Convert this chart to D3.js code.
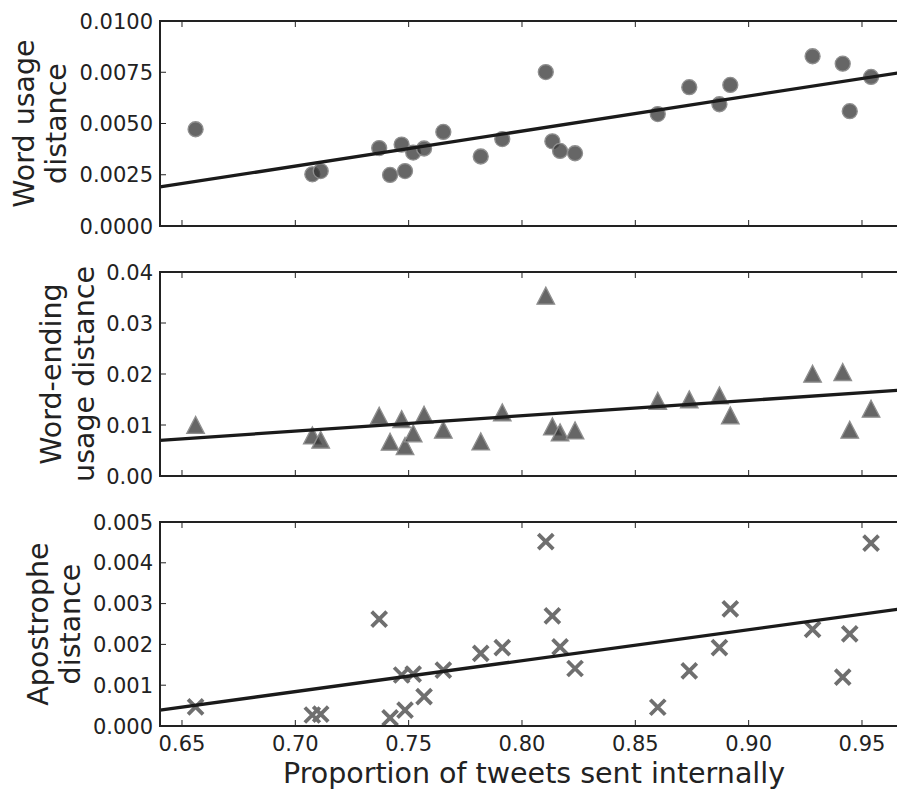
<!DOCTYPE html>
<html>
<head>
<meta charset="utf-8">
<script src="https://cdn.jsdelivr.net/npm/d3@7"></script>
<style>
  body { margin: 0; background: #fff; }
  text { font-family: "DejaVu Sans", sans-serif; fill: #222; }
</style>
</head>
<body>
<div id="chart"></div>
<script>
// proportion of tweets sent internally (shared by all three panels)
var proportion = [0.656, 0.7075, 0.7112, 0.737, 0.7418, 0.7469, 0.7484, 0.752, 0.7568, 0.7653,
  0.7818, 0.7913, 0.8105, 0.8134, 0.8168, 0.8234, 0.8599, 0.8738, 0.8871, 0.8919,
  0.9282, 0.9415, 0.9446, 0.954];

var wordDist = [0.00472, 0.00252, 0.00268, 0.0038, 0.00249, 0.00397, 0.00268, 0.00358, 0.00378, 0.00459,
  0.00339, 0.00424, 0.00751, 0.00413, 0.00366, 0.00355, 0.00546, 0.00677, 0.00594, 0.00688,
  0.00828, 0.00792, 0.0056, 0.00727];

var endingDist = [0.00996, 0.0079, 0.00706, 0.01176, 0.00667, 0.0111, 0.00582, 0.0083, 0.01196, 0.00902,
  0.00673, 0.01241, 0.0353, 0.00967, 0.00849, 0.00888, 0.0147, 0.01496, 0.01575, 0.01183,
  0.0200, 0.02033, 0.00902, 0.01314];

var apostropheDist = [0.00047, 0.00027, 0.00029, 0.00262, 0.0002, 0.00125, 0.00039, 0.00127, 0.00072, 0.00137,
  0.00178, 0.00192, 0.00452, 0.0027, 0.00194, 0.00141, 0.00046, 0.00135, 0.00192, 0.00287,
  0.00237, 0.0012, 0.00226, 0.00448];

// fitted lines [slope, intercept]
var wordFit = [0.01709, -0.00904];
var endingFit = [0.03013, -0.01229];
var apostropheFit = [0.00759, -0.00447];

var xTicks = [0.65, 0.70, 0.75, 0.80, 0.85, 0.90, 0.95];
var wordTicks = [0, 0.0025, 0.005, 0.0075, 0.01];
var endingTicks = [0, 0.01, 0.02, 0.03, 0.04];
var apostropheTicks = [0, 0.001, 0.002, 0.003, 0.004, 0.005];

var W = 897, H = 791;
var svg = d3.select("#chart").append("svg")
  .attr("width", W).attr("height", H);

// x scale: 0.65 at 182px, 0.95 at 862px
var x = d3.scaleLinear().domain([0.6403, 0.9703]).range([160, 908]);

var panels = [
  {top: 21, bottom: 226, ys: wordDist, fit: wordFit, ticks: wordTicks, fmt: ".4f", marker: "circle",
   label: ["Word usage", "distance"], base: [34, 66]},
  {top: 272, bottom: 476, ys: endingDist, fit: endingFit, ticks: endingTicks, fmt: ".2f", marker: "triangle",
   label: ["Word-ending", "usage distance"], base: [61, 93.5]},
  {top: 522, bottom: 726, ys: apostropheDist, fit: apostropheFit, ticks: apostropheTicks, fmt: ".3f", marker: "cross",
   label: ["Apostrophe", "distance"], base: [47.5, 80]}
];

panels.forEach(function(p, pi) {
  var y = d3.scaleLinear()
    .domain([p.ticks[0], p.ticks[p.ticks.length - 1]])
    .range([p.bottom, p.top]);

  var g = svg.append("g");
  var pts = proportion.map(function(v, i) { return {x: v, y: p.ys[i]}; });

  // points
  if (p.marker === "circle") {
    g.selectAll("circle.pt").data(pts).join("circle")
      .attr("class", "pt")
      .attr("cx", function(d) { return x(d.x); })
      .attr("cy", function(d) { return y(d.y); })
      .attr("r", 7.5)
      .attr("fill", "#333").attr("fill-opacity", 0.75)
      .attr("stroke", "#8f8f8f").attr("stroke-width", 1.3);
  } else if (p.marker === "triangle") {
    g.selectAll("path.pt").data(pts).join("path")
      .attr("class", "pt")
      .attr("d", function(d) {
        var cx = x(d.x), cy = y(d.y);
        return "M" + cx + "," + (cy - 8.8) + "L" + (cx + 8.8) + "," + (cy + 8.2) + "L" + (cx - 8.8) + "," + (cy + 8.2) + "Z";
      })
      .attr("fill", "#333").attr("fill-opacity", 0.75)
      .attr("stroke", "#8f8f8f").attr("stroke-width", 1.3);
  } else {
    g.selectAll("path.pt").data(pts).join("path")
      .attr("class", "pt")
      .attr("d", function(d) {
        var cx = x(d.x), cy = y(d.y), s = 7.5;
        return "M" + (cx - s) + "," + (cy - s) + "L" + (cx + s) + "," + (cy + s) +
               "M" + (cx - s) + "," + (cy + s) + "L" + (cx + s) + "," + (cy - s);
      })
      .attr("fill", "none")
      .attr("stroke", "#6f6f6f").attr("stroke-width", 3.8);
  }

  // fit line
  var xd = x.domain();
  g.append("line")
    .attr("x1", x(xd[0])).attr("y1", y(p.fit[0] * xd[0] + p.fit[1]))
    .attr("x2", x(xd[1])).attr("y2", y(p.fit[0] * xd[1] + p.fit[1]))
    .attr("stroke", "#1a1a1a").attr("stroke-width", 3.3);

  // x ticks (inward, top and bottom)
  xTicks.forEach(function(t) {
    g.append("line").attr("x1", x(t)).attr("x2", x(t))
      .attr("y1", p.bottom).attr("y2", p.bottom - 6).attr("stroke", "#222").attr("stroke-width", 1);
    g.append("line").attr("x1", x(t)).attr("x2", x(t))
      .attr("y1", p.top).attr("y2", p.top + 6).attr("stroke", "#222").attr("stroke-width", 1);
  });

  // y ticks and labels
  var f = d3.format(p.fmt);
  p.ticks.forEach(function(t) {
    g.append("line").attr("x1", x(xd[0])).attr("x2", x(xd[0]) + 6)
      .attr("y1", y(t)).attr("y2", y(t)).attr("stroke", "#222").attr("stroke-width", 1);
    g.append("text")
      .attr("x", 153).attr("y", y(t)).attr("dy", "0.36em")
      .attr("text-anchor", "end").attr("font-size", 21)
      .text(f(t));
  });

  // frame
  g.append("rect")
    .attr("x", x(xd[0])).attr("y", p.top)
    .attr("width", x(xd[1]) - x(xd[0])).attr("height", p.bottom - p.top)
    .attr("fill", "none").attr("stroke", "#222").attr("stroke-width", 2);

  // y label, two lines rotated
  var cy = (p.top + p.bottom) / 2;
  p.label.forEach(function(s, li) {
    g.append("text")
      .attr("transform", "translate(" + p.base[li] + "," + cy + ") rotate(-90)")
      .attr("text-anchor", "middle").attr("font-size", 28.5)
      .text(s);
  });

  // x tick labels on last panel
  if (pi === panels.length - 1) {
    xTicks.forEach(function(t) {
      g.append("text")
        .attr("x", x(t)).attr("y", 751)
        .attr("text-anchor", "middle").attr("font-size", 21)
        .text(d3.format(".2f")(t));
    });
    g.append("text")
      .attr("x", (x(xd[0]) + x(xd[1])) / 2).attr("y", 783)
      .attr("text-anchor", "middle").attr("font-size", 28.5)
      .text("Proportion of tweets sent internally");
  }
});
</script>
</body>
</html>
